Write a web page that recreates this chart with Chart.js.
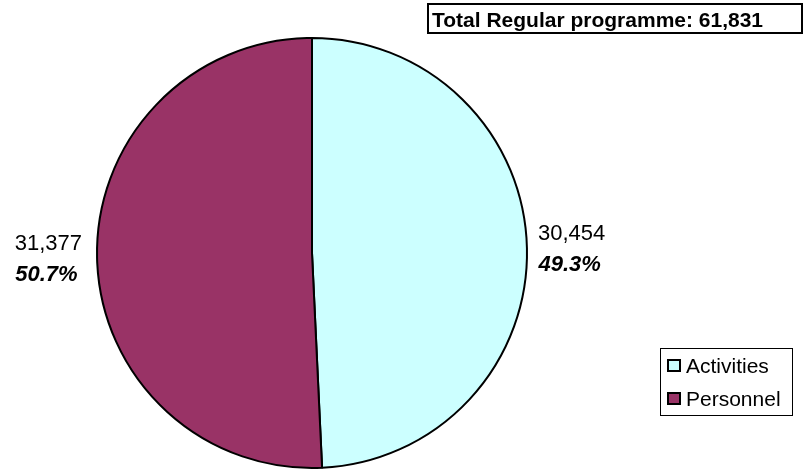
<!DOCTYPE html>
<html>
<head>
<meta charset="utf-8">
<script src="https://cdn.jsdelivr.net/npm/chart.js@4/dist/chart.umd.min.js"></script>
<style>
  html, body { margin: 0; padding: 0; background: #fff; }
  #wrap { width: 805px; height: 472px; }
</style>
</head>
<body>
<div id="wrap"><canvas id="myChart" width="805" height="472"></canvas></div>
<script>
// data
var categorias = ['Activities', 'Personnel'];
var valores = [30454, 31377];
var colores = ['#CCFFFF', '#993366'];
var titulo = 'Total Regular programme: 61,831';

var total = valores.reduce(function (a, b) { return a + b; }, 0);

// labels, title box and legend drawn on top of the pie
const extras = {
    id: 'extras',
    afterDraw: function (chart) {
        const ctx = chart.ctx;
        const arcs = chart.getDatasetMeta(0).data;
        ctx.save();

        // value + percent next to each slice
        arcs.forEach(function (arc, i) {
            const p = arc.getProps(['x', 'y', 'startAngle', 'endAngle', 'outerRadius'], true);
            const mid = (p.startAngle + p.endAngle) / 2;
            const ay = p.y + Math.sin(mid) * p.outerRadius;
            const right = Math.cos(mid) >= 0;
            const linea1 = valores[i].toLocaleString('en-US');
            const linea2 = (valores[i] / total * 100).toFixed(1) + '%';
            ctx.font = '22px "Liberation Sans", Arial, sans-serif';
            const w = ctx.measureText(linea1).width;
            const cx = right ? p.x + p.outerRadius + 11 + w / 2 : p.x - p.outerRadius - 15 - w / 2;
            const top = ay - 24;
            ctx.fillStyle = '#000';
            ctx.textAlign = 'center';
            ctx.textBaseline = 'alphabetic';
            ctx.fillText(linea1, cx, top + 16);
            ctx.font = 'italic bold 22px "Liberation Sans", Arial, sans-serif';
            ctx.fillText(linea2, cx - 2, top + 47);
        });

        // title box
        ctx.fillStyle = '#fff';
        ctx.fillRect(427, 3, 376, 30);
        ctx.strokeStyle = '#000';
        ctx.lineWidth = 2;
        ctx.strokeRect(428, 4, 374, 29);
        ctx.fillStyle = '#000';
        ctx.textAlign = 'left';
        ctx.font = 'bold 21px "Liberation Sans", Arial, sans-serif';
        ctx.fillText(titulo, 432, 27);

        // legend
        ctx.lineWidth = 1;
        ctx.strokeStyle = '#000';
        ctx.strokeRect(660.5, 348.5, 132, 67);
        ctx.font = '21px "Liberation Sans", Arial, sans-serif';
        categorias.forEach(function (c, i) {
            const y = 359 + i * 33;
            ctx.fillStyle = colores[i];
            ctx.fillRect(667, y, 14, 13);
            ctx.lineWidth = 2;
            ctx.strokeRect(668, y + 1, 12, 11);
            ctx.fillStyle = '#000';
            ctx.fillText(c, 686, y + 14);
        });
        ctx.restore();
    }
};

const ctx = document.getElementById('myChart').getContext('2d');
const myChart = new Chart(ctx, {
    type: 'pie',
    data: {
        labels: categorias,
        datasets: [{
            data: valores,
            backgroundColor: colores,
            borderColor: '#000',
            borderWidth: 2
        }]
    },
    options: {
        responsive: false,
        animation: false,
        layout: {
            padding: { left: 96, right: 277, top: 37, bottom: 3 }
        },
        plugins: {
            legend: { display: false },
            tooltip: { enabled: false }
        }
    },
    plugins: [extras]
});
</script>
</body>
</html>
